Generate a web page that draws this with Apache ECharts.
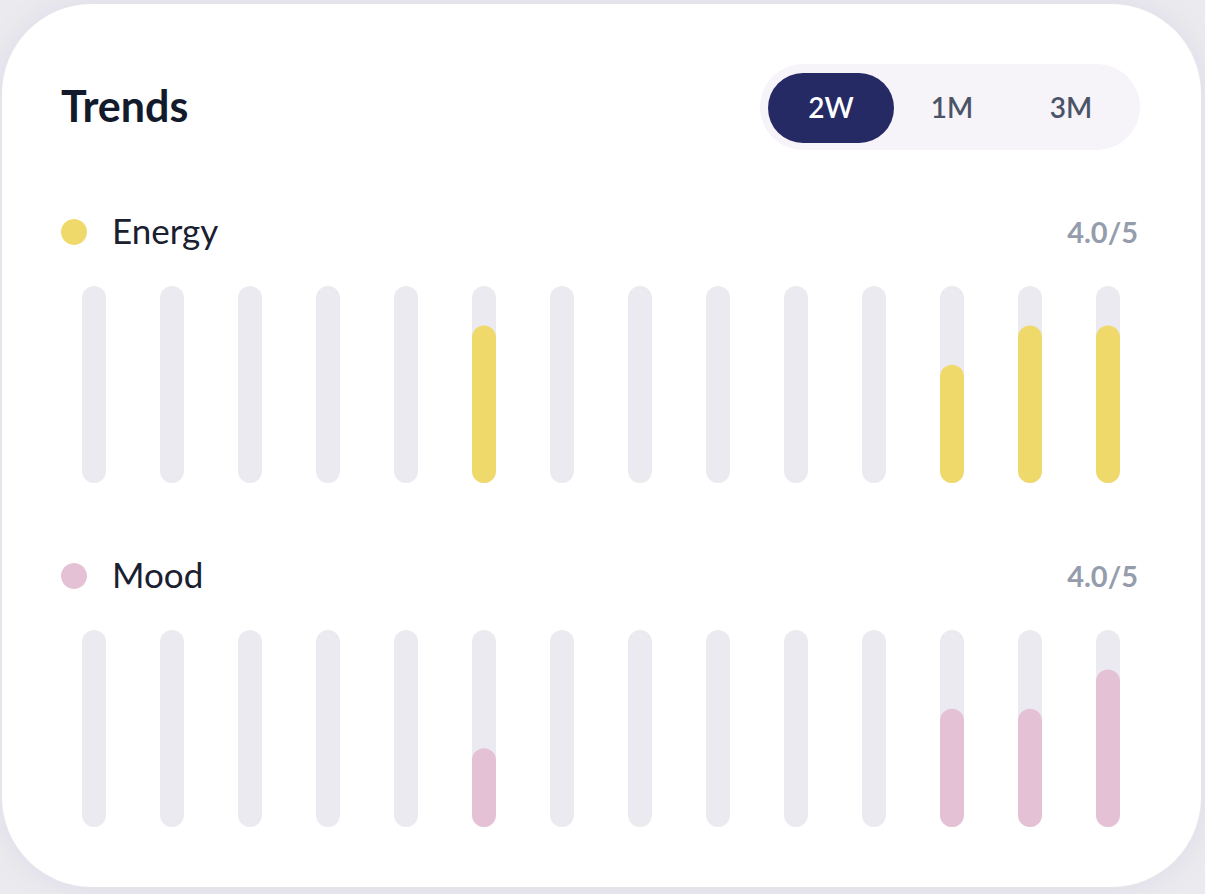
<!DOCTYPE html>
<html>
<head>
<meta charset="utf-8">
<style>
  html, body { margin: 0; padding: 0; background: #ebeaef; }
  #chart { width: 1205px; height: 894px; }
</style>
<script src="https://cdn.jsdelivr.net/npm/echarts@6/dist/echarts.min.js"></script>
</head>
<body>
<div id="chart"></div>
<script>
// ---- data ----
const days = ['1','2','3','4','5','6','7','8','9','10','11','12','13','14'];
const energy = [0,0,0,0,0,4,0,0,0,0,0,3,4,4];
const mood   = [0,0,0,0,0,2,0,0,0,0,0,3,3,4];
const maxScore = 5;
const rangeLabels = ['2W','1M','3M'];
const energyScore = '4.0/5';
const moodScore = '4.0/5';

const FONT = 'Lato, "Noto Sans", sans-serif';
const track = days.map(() => maxScore);

const chart = echarts.init(document.getElementById('chart'), null, { renderer: 'svg' });

function barSeries(name, idx, data, color, z) {
  return {
    name, type: 'bar', xAxisIndex: idx, yAxisIndex: idx,
    data: data.map(v => v === 0 ? '-' : v),
    barWidth: 24, barGap: '-100%', z,
    silent: true,
    itemStyle: { color, borderRadius: 12 }
  };
}

chart.setOption({
  animation: false,
  grid: [
    { left: 55, right: 58, top: 286, height: 197 },
    { left: 55, right: 58, top: 630, height: 197 }
  ],
  xAxis: [0, 1].map(i => ({
    type: 'category', gridIndex: i, data: days, show: false
  })),
  yAxis: [0, 1].map(i => ({
    type: 'value', gridIndex: i, min: 0, max: maxScore, show: false
  })),
  series: [
    barSeries('track-e', 0, track, '#ebeaf0', 2),
    barSeries('Energy', 0, energy, '#f0d96b', 3),
    barSeries('track-m', 1, track, '#ebeaf0', 2),
    barSeries('Mood', 1, mood, '#e4c1d4', 3)
  ],
  graphic: [
    { type: 'rect', z: -10, shape: { x: 2, y: 4, width: 1199, height: 883, r: 90 },
      style: { fill: '#ffffff', shadowBlur: 30, shadowColor: 'rgba(60,50,90,0.06)' } },
    { type: 'text', z: 5, x: 61, y: 105,
      style: { text: 'Trends', font: 'bold 43px ' + FONT, fill: '#131a2c', textVerticalAlign: 'middle' } },
    { type: 'rect', z: 5, shape: { x: 760, y: 64, width: 380, height: 86, r: 43 },
      style: { fill: '#f6f3f9' } },
    { type: 'rect', z: 6, shape: { x: 768, y: 73, width: 126, height: 70, r: 35 },
      style: { fill: '#252964' } },
    { type: 'text', z: 7, x: 831, y: 107,
      style: { text: rangeLabels[0], font: '600 28px ' + FONT, fill: '#ffffff', textAlign: 'center', textVerticalAlign: 'middle' } },
    { type: 'text', z: 7, x: 952, y: 107,
      style: { text: rangeLabels[1], font: '600 28px ' + FONT, fill: '#4b5467', textAlign: 'center', textVerticalAlign: 'middle' } },
    { type: 'text', z: 7, x: 1071, y: 107,
      style: { text: rangeLabels[2], font: '600 28px ' + FONT, fill: '#4b5467', textAlign: 'center', textVerticalAlign: 'middle' } },
    // Energy header
    { type: 'circle', z: 5, shape: { cx: 74, cy: 232, r: 13 }, style: { fill: '#f0d96b' } },
    { type: 'text', z: 5, x: 112, y: 230,
      style: { text: 'Energy', font: '35px ' + FONT, fill: '#1a2030', textVerticalAlign: 'middle' } },
    { type: 'text', z: 5, x: 1138, y: 231,
      style: { text: energyScore, font: 'bold 29px ' + FONT, fill: '#959cab', textAlign: 'right', textVerticalAlign: 'middle' } },
    // Mood header
    { type: 'circle', z: 5, shape: { cx: 74, cy: 576, r: 13 }, style: { fill: '#e4c1d4' } },
    { type: 'text', z: 5, x: 112, y: 574,
      style: { text: 'Mood', font: '35px ' + FONT, fill: '#1a2030', textVerticalAlign: 'middle' } },
    { type: 'text', z: 5, x: 1138, y: 575,
      style: { text: moodScore, font: 'bold 29px ' + FONT, fill: '#959cab', textAlign: 'right', textVerticalAlign: 'middle' } }
  ]
});
</script>
</body>
</html>
